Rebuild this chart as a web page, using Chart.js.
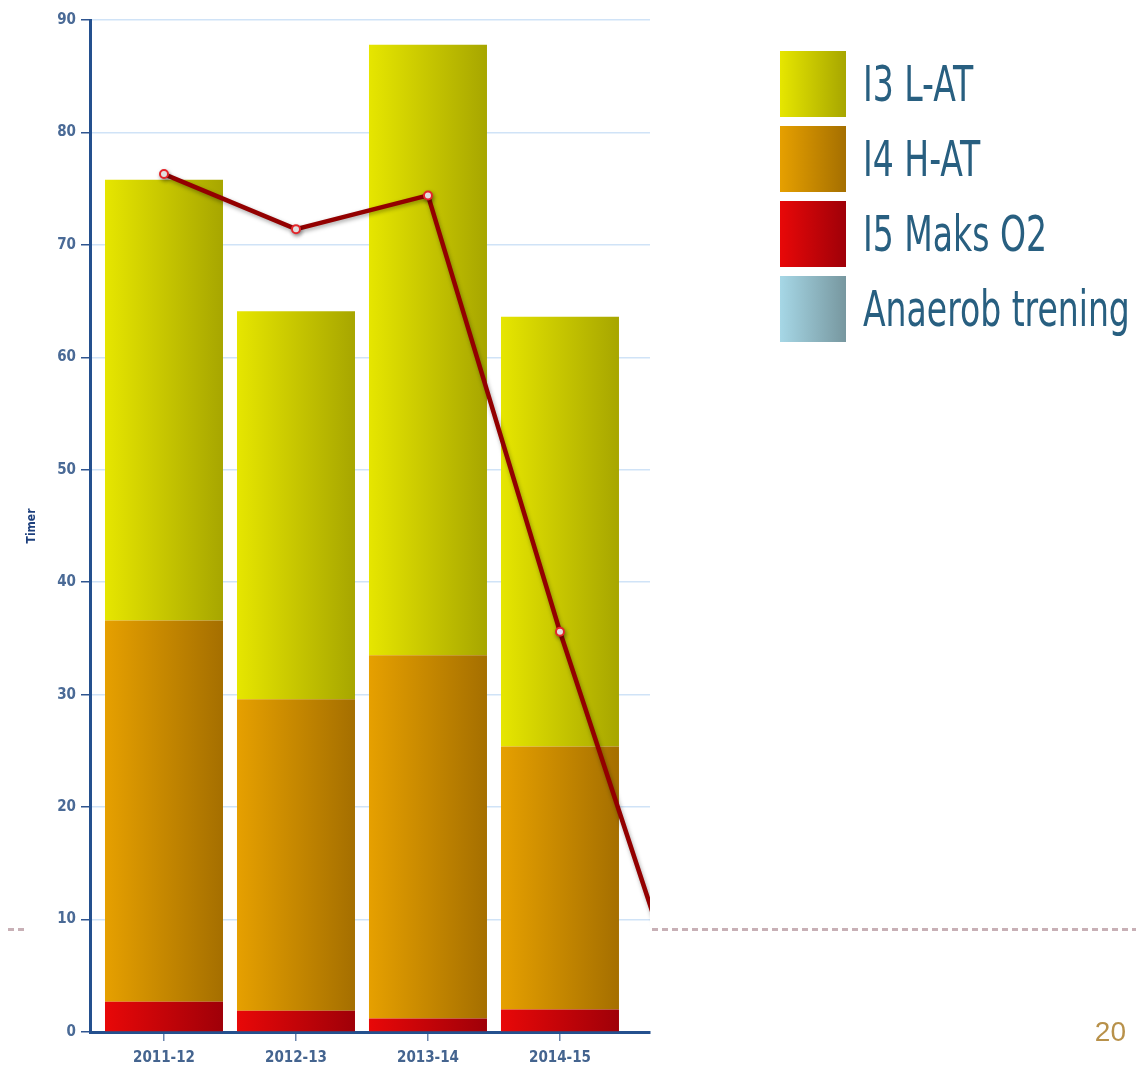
<!DOCTYPE html>
<html>
<head>
<meta charset="utf-8">
<script src="https://cdn.jsdelivr.net/npm/chart.js@4.4.1/dist/chart.umd.min.js"></script>
<style>
  body { margin: 0; background: #fff; }
  #wrap { position: relative; width: 1136px; height: 1070px; overflow: hidden; }
  #wrap canvas { position: absolute; left: 0; top: 0; }
  .dots { position: absolute; top: 928px; height: 3px;
    background: repeating-linear-gradient(90deg, #c8b0b6 0 6px, transparent 6px 10px); }
  #legend { position: absolute; left: 780px; top: 51px; }
  .item { display: flex; align-items: center; height: 66px; margin-bottom: 9px; }
  .sw { width: 66px; height: 66px; flex: none; }
  .lbl { font-family: "Liberation Sans Narrow", "DejaVu Sans Condensed", sans-serif; font-size: 50px;
    color: #285f80; margin-left: 17px; white-space: nowrap; transform: scaleX(0.735); transform-origin: left center; }
  #page { position: absolute; right: 10px; top: 1016px; font: 28px "Liberation Sans", Arial, sans-serif; color: #b8914a; }
</style>
</head>
<body>
<div id="wrap">
  <div class="dots" style="left:8px;width:18px"></div>
  <div class="dots" style="left:652px;width:484px"></div>
  <canvas id="myChart"></canvas>
  <div id="legend"></div>
  <div id="page">20</div>
</div>
<script>
const seasons = ['2011-12', '2012-13', '2013-14', '2014-15', '2015-16'];
const i5Maks = [2.7, 1.9, 1.2, 2.0];
const i4HAT = [33.9, 27.7, 32.3, 23.4];
const i3LAT = [39.2, 34.5, 54.3, 38.2];
const anaerob = [0, 0, 0, 0];
const totalLine = [76.3, 71.4, 74.4, 35.6, 0];
const yTicks = [0, 10, 20, 30, 40, 50, 60, 70, 80, 90];

const cond = '"Liberation Sans Narrow", "DejaVu Sans Condensed", sans-serif';

// left -> right shading of each bar
const shades = {
  i3: ['#e6e600', '#a7a600'],
  i4: ['#e6a000', '#a56f00'],
  i5: ['#e80808', '#9f0008'],
  an: ['#a6d7e6', '#77979f']
};

function barGradient(key) {
  return function (ctx) {
    const c = shades[key];
    const xs = ctx.chart.scales.x;
    if (!xs || ctx.dataIndex === undefined) return c[0];
    const cx = xs.getPixelForValue(ctx.dataIndex);
    const half = (xs.getPixelForValue(1) - xs.getPixelForValue(0)) * 0.894 / 2;
    if (!isFinite(cx) || !isFinite(half) || half <= 0) return c[0];
    const g = ctx.chart.ctx.createLinearGradient(cx - half, 0, cx + half, 0);
    g.addColorStop(0, c[0]);
    g.addColorStop(1, c[1]);
    return g;
  };
}

const toPoints = arr => arr.map((v, i) => ({ x: i, y: v }));

function barSet(label, values, key) {
  return {
    type: 'bar',
    label: label,
    data: toPoints(values),
    backgroundColor: barGradient(key),
    borderWidth: 0,
    barPercentage: 0.894,
    categoryPercentage: 1,
    stack: 'bars',
    order: 1
  };
}

// legend beside the chart
const legendItems = [
  ['I3 L-AT', 'i3'],
  ['I4 H-AT', 'i4'],
  ['I5 Maks O2', 'i5'],
  ['Anaerob trening', 'an']
];
document.getElementById('legend').innerHTML = legendItems.map(([t, k]) =>
  `<div class="item"><div class="sw" style="background:linear-gradient(90deg,${shades[k][0]},${shades[k][1]})"></div><span class="lbl">${t}</span></div>`
).join('');

const lineShadow = {
  id: 'lineShadow',
  beforeDatasetDraw(chart, args) {
    if (args.meta.type !== 'line') return;
    const c = chart.ctx;
    c.save();
    c.shadowColor = 'rgba(0,0,0,0.35)';
    c.shadowBlur = 4;
    c.shadowOffsetX = 1;
    c.shadowOffsetY = 2;
  },
  afterDatasetDraw(chart, args) {
    if (args.meta.type !== 'line') return;
    chart.ctx.restore();
  }
};

Chart.defaults.font.family = cond;

const ctx = document.getElementById('myChart').getContext('2d');
const myChart = new Chart(ctx, {
  type: 'bar',
  data: {
    datasets: [
      barSet('I5 Maks O2', i5Maks, 'i5'),
      barSet('I4 H-AT', i4HAT, 'i4'),
      barSet('I3 L-AT', i3LAT, 'i3'),
      barSet('Anaerob trening', anaerob, 'an'),
      {
        type: 'line',
        label: 'Totalt',
        data: toPoints(totalLine),
        borderColor: '#930000',
        borderWidth: 4.5,
        pointRadius: 4,
        pointBackgroundColor: '#ffffff',
        pointBorderColor: '#e3262b',
        pointBorderWidth: 2,
        tension: 0,
        clip: 0,
        stack: 'line',
        order: 0
      }
    ]
  },
  options: {
    responsive: true,
    maintainAspectRatio: false,
    animation: false,
    layout: { padding: { left: 0, top: 20, right: 486, bottom: 0 } },
    plugins: { legend: { display: false }, tooltip: { enabled: false } },
    scales: {
      x: {
        type: 'linear',
        min: -0.5606,
        max: 3.682,
        offset: false,
        ticks: {
          stepSize: 1,
          includeBounds: false,
          autoSkip: false,
          maxRotation: 0,
          padding: 8,
          color: '#44648f',
          font: { size: 15, weight: 'bold' },
          callback: v => seasons[v] ?? ''
        },
        grid: { drawOnChartArea: false, offset: false, tickColor: '#6c86ad', tickLength: 9, lineWidth: 1.5 },
        border: { color: '#24508e', width: 3 },
        afterFit: s => { s.height = 38; }
      },
      y: {
        stacked: true,
        min: yTicks[0],
        max: yTicks[yTicks.length - 1],
        afterBuildTicks: s => { s.ticks = yTicks.map(v => ({ value: v })); },
        ticks: { padding: 5, color: '#4a6a96', font: { size: 15, weight: 'bold' } },
        grid: { color: '#d0e3f7', lineWidth: 1.5, tickColor: '#2f5590', tickLength: 9 },
        border: { color: '#24508e', width: 3 },
        title: { display: true, text: 'Timer', color: '#1d3f7c', font: { size: 12, weight: 'bold' }, padding: { top: 25, bottom: 0 } },
        afterFit: s => { s.width = 90; }
      }
    }
  },
  plugins: [lineShadow]
});
</script>
</body>
</html>
